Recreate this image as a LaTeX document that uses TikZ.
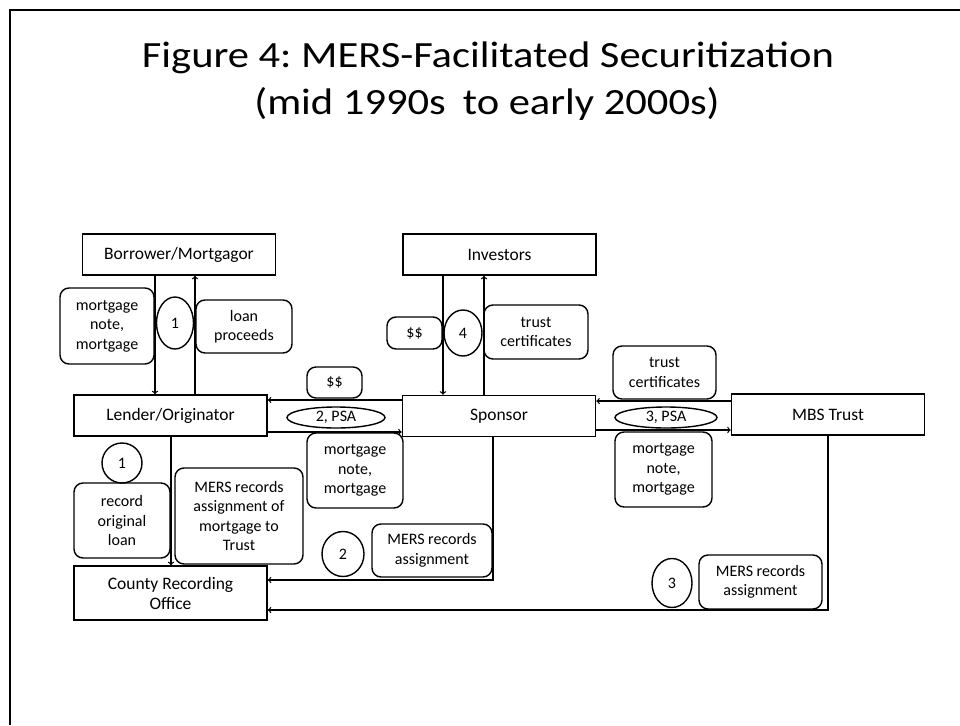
\documentclass[tikz,border=0pt]{standalone}
\usepackage{fontspec}
\setmainfont{Carlito}
\newfontfamily\headfont[FakeStretch=1.15]{Carlito}
\frenchspacing
\usetikzlibrary{shapes.geometric}
\begin{document}
\begin{tikzpicture}[x=1pt,y=-1pt,
    party/.style={draw,line width=1.6pt,minimum width=193pt,minimum height=41pt,inner sep=0pt,align=center,font=\fontsize{17.5}{20}\selectfont},
    tag/.style={draw,line width=1.4pt,rounded corners=9pt,inner sep=0pt,align=center,font=\fontsize{16}{19.5}\selectfont},
    stepno/.style={draw,ellipse,line width=1.4pt,inner sep=0pt,font=\fontsize{16}{19.5}\selectfont},
    head/.style={anchor=base,font=\headfont\fontsize{37}{44}\selectfont},
    flow/.style={->,line width=1.3pt}]
    \useasboundingbox (0,0) rectangle (960,725);
    \draw[line width=2pt] (10,725) -- (10,10) -- (960,10);
    \node[head] (titleA) at (488,67) {Figure 4: MERS-Facilitated Securitization};
    \node[head] (titleB) at (487,114) {(mid 1990s\hspace{.2em} to early 2000s)};

    \node[party] (borrower) at (179,254.5) {Borrower/Mortgagor};
    \node[party] (investors) at (499.5,254.5) {Investors};
    \node[party] (lender) at (170.5,415.5) {Lender/Originator};
    \node[party] (sponsor) at (499,416) {Sponsor};
    \node[party] (trust) at (828,414.5) {MBS Trust};
    \node[party,minimum height=54pt] (county) at (170.5,593) {County Recording\\Office};

    \node[tag,minimum width=94pt,minimum height=76pt] (noteA) at (107,326) {mortgage\\note,\\mortgage};
    \node[tag,minimum width=96pt,minimum height=53pt] (proceeds) at (244,326.5) {loan\\proceeds};
    \node[tag,minimum width=55pt,minimum height=31pt] (cashA) at (334.5,382.5) {\$\$};
    \node[tag,minimum width=96pt,minimum height=75pt] (noteB) at (355,470.5) {mortgage\\note,\\mortgage};
    \node[tag,minimum width=96pt,minimum height=75pt] (record) at (122,520.5) {record\\original\\loan};
    \node[tag,minimum width=128pt,minimum height=96pt] (mersA) at (239,516) {MERS records\\assignment of\\mortgage to\\Trust};
    \node[tag,minimum width=120pt,minimum height=53pt] (mersB) at (432,550.5) {MERS records\\assignment};
    \node[tag,minimum width=55pt,minimum height=32pt] (cashB) at (414.5,333) {\$\$};
    \node[tag,minimum width=104pt,minimum height=54pt] (certA) at (536,332) {trust\\certificates};
    \node[tag,minimum width=103pt,minimum height=53pt] (certB) at (664.5,372.5) {trust\\certificates};
    \node[tag,minimum width=97pt,minimum height=75pt] (noteC) at (663.5,469.5) {mortgage\\note,\\mortgage};
    \node[tag,minimum width=123pt,minimum height=54pt] (mersC) at (760.5,582) {MERS records\\assignment};

    \node[stepno,minimum width=37pt,minimum height=52pt] (oneA) at (175,323) {1};
    \node[stepno,minimum width=40pt,minimum height=40pt] (oneB) at (122,463) {1};
    \node[stepno,minimum width=42pt,minimum height=45pt] (two) at (343,554) {2};
    \node[stepno,minimum width=40pt,minimum height=49pt] (three) at (672,583) {3};
    \node[stepno,minimum width=38pt,minimum height=46pt] (four) at (463,333) {4};
    \node[stepno,minimum width=98pt,minimum height=21pt] (psaA) at (336,417.5) {2, PSA};
    \node[stepno,minimum width=102pt,minimum height=21pt] (psaB) at (666,417.5) {3, PSA};

    \draw[flow] (borrower.south -| 155,0) -- (lender.north -| 155,0);
    \draw[flow] (lender.north -| 195,0) -- (borrower.south -| 195,0);
    \draw[flow] (investors.south -| 443,0) -- (sponsor.north -| 443,0);
    \draw[flow] (sponsor.north -| 484,0) -- (investors.south -| 484,0);
    \draw[flow] (sponsor.west |- 0,400) -- (lender.east |- 0,400);
    \draw[flow] (lender.east |- 0,432) -- (sponsor.west |- 0,432);
    \draw[flow] (trust.west |- 0,401) -- (sponsor.east |- 0,401);
    \draw[flow] (sponsor.east |- 0,430) -- (trust.west |- 0,430);
    \draw[flow] (lender.south -| 171,0) -- (county.north -| 171,0);
    \draw[flow] (sponsor.south -| 493,0) |- (county.east |- 0,580);
    \draw[flow] (trust.south) |- (county.east |- 0,610);
\end{tikzpicture}
\end{document}
